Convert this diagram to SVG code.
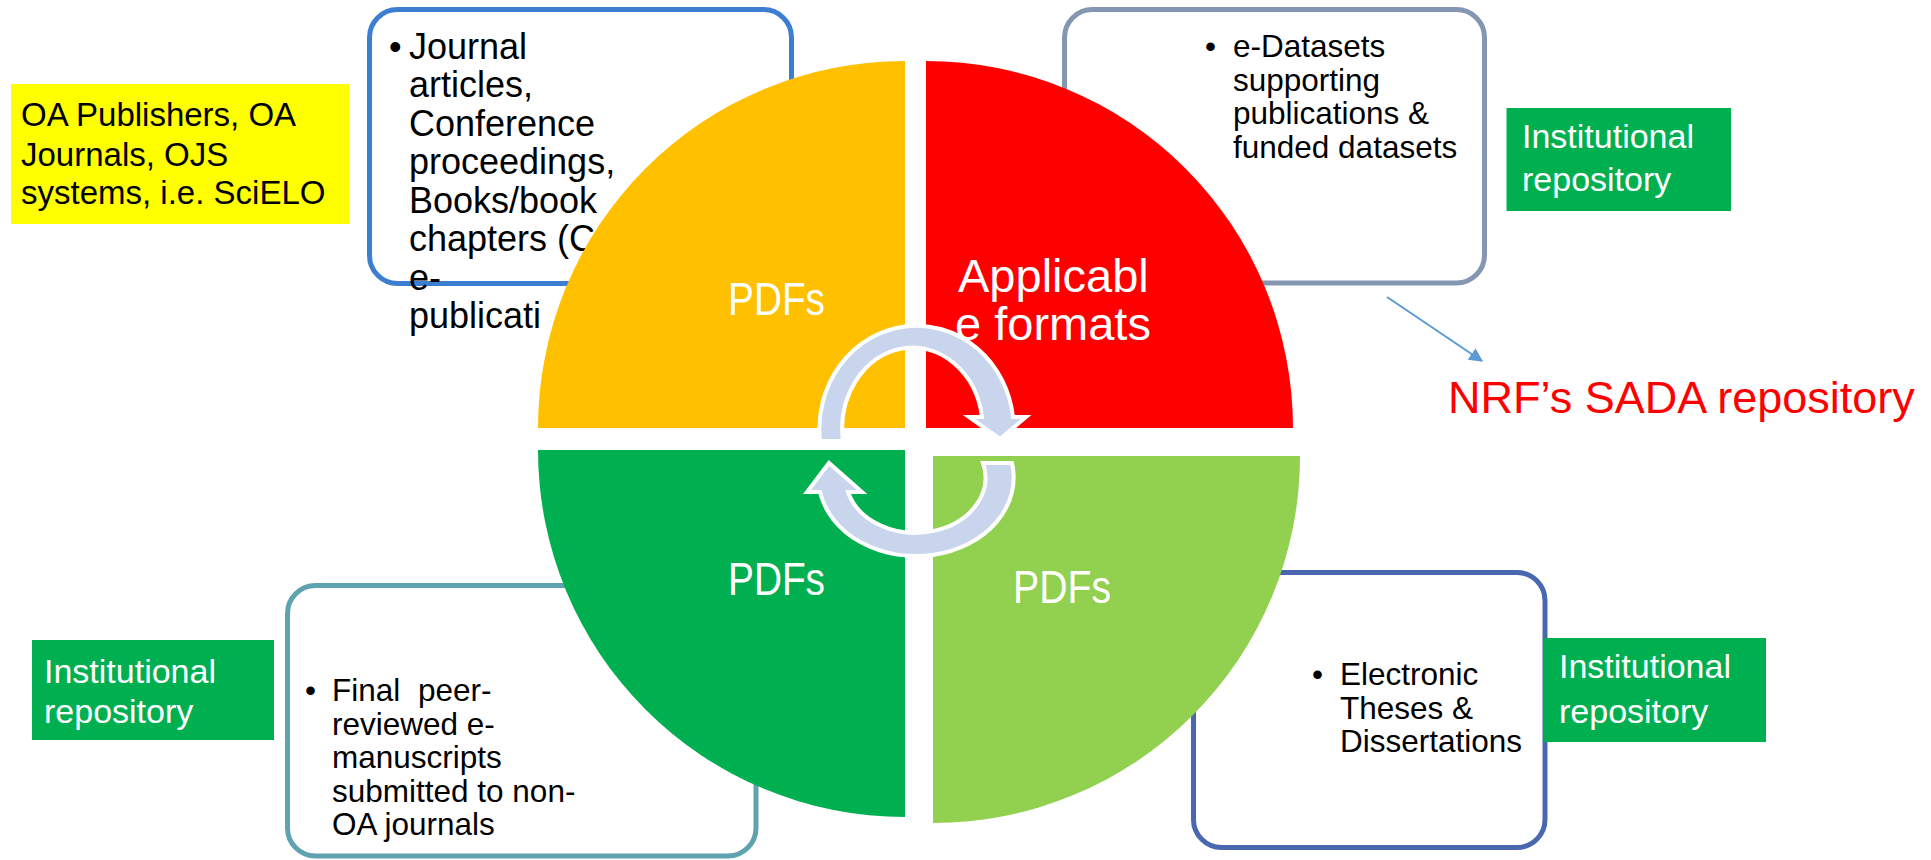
<svg xmlns="http://www.w3.org/2000/svg" width="1931" height="860" viewBox="0 0 1931 860">
<defs>
<style>
.t{font-family:"Liberation Sans",Arial,sans-serif;}
.box{fill:#FFFFFF;stroke-width:5;}
.blk{fill:#000000;}
.wht{fill:#FFFFFF;}
.ir{fill:#00B050;}
.cyc{fill:#C9D5EC;stroke:#FFFFFF;stroke-width:4;stroke-linejoin:miter;}
</style>
<marker id="ah" viewBox="0 0 10 10" refX="9" refY="5" markerWidth="7" markerHeight="7" orient="auto" markerUnits="strokeWidth">
<path d="M0,0 L10,5 L0,10 Z" fill="#5B9BD5"/>
</marker>
</defs>
<rect width="1931" height="860" fill="#FFFFFF"/>

<g id="oa-publishers">
<rect x="11" y="84" width="338" height="140" fill="#FFFF00"/>
<text class="t blk" font-size="33" x="21" y="126">OA Publishers, OA</text>
<text class="t blk" font-size="33" x="21" y="166">Journals, OJS</text>
<text class="t blk" font-size="33" x="21" y="204">systems, i.e. SciELO</text>
</g>

<g id="box-journal">
<rect class="box" x="369.5" y="9.5" width="422" height="274" rx="28" stroke="#3C7FD2"/>
<g class="t blk" font-size="36">
<text x="389" y="59">•</text>
<text x="409" y="59">Journal</text>
<text x="409" y="97">articles,</text>
<text x="409" y="136">Conference</text>
<text x="409" y="174">proceedings,</text>
<text x="409" y="213">Books/book</text>
<text x="409" y="251">chapters (C</text>
<text x="409" y="290">e-</text>
<text x="409" y="328">publicati</text>
</g>
</g>

<g id="box-datasets">
<rect class="box" x="1064.5" y="9.5" width="420" height="273.5" rx="28" stroke="#8496B2"/>
<g class="t blk" font-size="31.5">
<text x="1205" y="57">•</text>
<text x="1233" y="57">e-Datasets</text>
<text x="1233" y="90.5">supporting</text>
<text x="1233" y="124">publications &amp;</text>
<text x="1233" y="157.5">funded datasets</text>
</g>
</g>

<g id="box-manuscripts">
<rect class="box" x="287.5" y="585.5" width="468.5" height="270.5" rx="28" stroke="#60A3B0"/>
<g class="t blk" font-size="31.5">
<text x="305" y="701">•</text>
<text x="332" y="701">Final</text>
<text x="418" y="701">peer-</text>
<text x="332" y="734.5">reviewed e-</text>
<text x="332" y="768">manuscripts</text>
<text x="332" y="801.5">submitted to non-</text>
<text x="332" y="835">OA journals</text>
</g>
</g>

<g id="box-theses">
<rect class="box" x="1193.5" y="572.5" width="351.5" height="275" rx="28" stroke="#4A68B0"/>
<g class="t blk" font-size="31.5">
<text x="1312" y="685">•</text>
<text x="1340" y="685">Electronic</text>
<text x="1340" y="718.5">Theses &amp;</text>
<text x="1340" y="752">Dissertations</text>
</g>
</g>

<g id="quadrant-pdfs-1">
<path d="M905 428 L538 428 A367 367 0 0 1 905 61 Z" fill="#FFC000"/>
<text class="t wht" font-size="46" x="728" y="315" textLength="97" lengthAdjust="spacingAndGlyphs">PDFs</text>
</g>
<g id="quadrant-formats">
<path d="M926 428 L926 61 A367 367 0 0 1 1293 428 Z" fill="#FF0000"/>
<text class="t wht" font-size="47" x="958" y="292">Applicabl</text>
<text class="t wht" font-size="47" x="955" y="340">e formats</text>
</g>
<g id="quadrant-pdfs-2">
<path d="M905 450 L905 817 A367 367 0 0 1 538 450 Z" fill="#00B050"/>
<text class="t wht" font-size="46" x="728" y="595" textLength="97" lengthAdjust="spacingAndGlyphs">PDFs</text>
</g>
<g id="quadrant-pdfs-3">
<path d="M933 456 L1300 456 A367 367 0 0 1 933 823 Z" fill="#92D050"/>
<text class="t wht" font-size="46" x="1013" y="603" textLength="98" lengthAdjust="spacingAndGlyphs">PDFs</text>
</g>

<g id="cycle-arrows">
<path class="cyc" d="M820 441 A96 102 0 0 1 1013 417 L1026 417 L1000 439 L969 417 L982 417 A69 80 0 0 0 843 441 Z"/>
<path class="cyc" d="M1012 463 A97 78 0 0 1 820 492 L807 492 L829 463 L862 492 L848 492 A67 53 0 0 0 983 463 Z"/>
</g>

<g id="ir-top">
<rect class="ir" x="1506.5" y="108" width="224.5" height="103"/>
<text class="t wht" font-size="34" x="1522" y="148">Institutional</text>
<text class="t wht" font-size="34" x="1522" y="191">repository</text>
</g>
<g id="ir-left">
<rect class="ir" x="32" y="640" width="242" height="100"/>
<text class="t wht" font-size="34" x="44" y="683">Institutional</text>
<text class="t wht" font-size="34" x="44" y="723">repository</text>
</g>
<g id="ir-right">
<rect class="ir" x="1543.5" y="638" width="222.5" height="104"/>
<text class="t wht" font-size="34" x="1559" y="678">Institutional</text>
<text class="t wht" font-size="34" x="1559" y="723">repository</text>
</g>

<g id="sada">
<text class="t" font-size="45" fill="#FF0000" x="1448" y="413">NRF’s SADA repository</text>
</g>

<g id="connectors">
<line x1="1387" y1="297" x2="1482" y2="361" stroke="#5B9BD5" stroke-width="2" marker-end="url(#ah)"/>
</g>
</svg>
